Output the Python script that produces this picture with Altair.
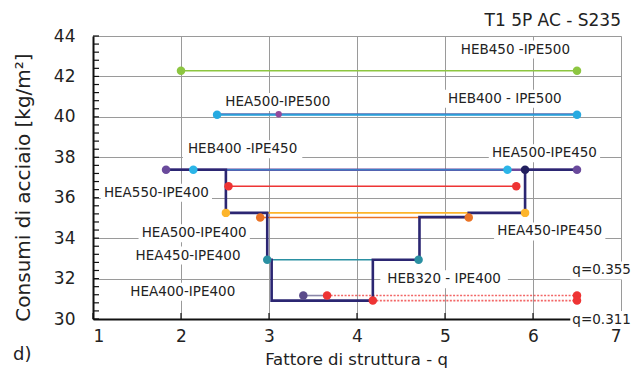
import altair as alt
import pandas as pd

# ---------------- data ----------------
seg_names = ["HEB450-IPE500", "HEA500-IPE500", "HEB400-IPE500", "HEA500-IPE450",
             "HEB400-IPE450", "HEA550-IPE400", "HEA450-IPE450", "HEA500-IPE400",
             "HEA450-IPE400", "HEA400-IPE400"]
seg_x1 = [2.00, 2.41, 2.41, 1.83, 2.14, 2.54, 2.51, 2.90, 2.98, 3.39]
seg_x2 = [6.50, 6.50, 6.50, 6.50, 5.71, 5.81, 5.91, 5.27, 4.70, 3.66]
seg_y = [42.28, 40.13, 40.09, 37.38, 37.38, 36.57, 35.25, 35.02, 32.93, 31.16]

pt_names = ["HEB450-IPE500", "HEB450-IPE500", "HEB400-IPE500", "HEB400-IPE500",
            "HEA500-IPE500", "HEA500-IPE450", "HEA500-IPE450", "HEB400-IPE450",
            "HEB400-IPE450", "envelope", "HEA550-IPE400", "HEA550-IPE400",
            "HEA450-IPE450", "HEA450-IPE450", "HEA500-IPE400", "HEA500-IPE400",
            "HEA450-IPE400", "HEA450-IPE400", "HEA400-IPE400", "q", "q", "q", "q"]
pt_x = [2.00, 6.50, 2.41, 6.50, 3.11, 1.83, 6.50, 2.14, 5.71, 5.91, 2.54, 5.81,
        2.51, 5.91, 2.90, 5.27, 2.98, 4.70, 3.39, 3.66, 4.18, 6.50, 6.50]
pt_y = [42.28, 42.28, 40.10, 40.10, 40.13, 37.38, 37.38, 37.38, 37.38, 37.38, 36.57, 36.57,
        35.25, 35.25, 35.02, 35.02, 32.93, 32.93, 31.16, 31.16, 30.91, 31.16, 30.91]

step_q = [1.83, 2.51, 2.51, 2.98, 2.98, 3.03, 3.03, 4.18, 4.18, 4.71, 4.71, 5.27,
          5.27, 5.91, 5.91, 6.50]
step_w = [37.38, 37.38, 35.25, 35.25, 32.93, 32.93, 30.91, 30.91, 32.93, 32.93,
          35.04, 35.04, 35.25, 35.25, 37.38, 37.38]

qline_x1 = [3.66, 4.18]
qline_x2 = [6.50, 6.50]
qline_y = [31.16, 30.91]

label_text = ["HEB450 -IPE500", "HEA500-IPE500", "HEB400 - IPE500", "HEB400 -IPE450",
              "HEA500-IPE450", "HEA550-IPE400", "HEA500-IPE400", "HEA450-IPE450",
              "HEA450-IPE400", "HEB320 - IPE400", "HEA400-IPE400", "q=0.355", "q=0.311"]
label_x = [5.80, 3.10, 5.68, 2.70, 6.13, 1.72, 2.15, 6.19, 2.08, 4.99, 2.02, 6.78, 6.78]
label_y = [43.33, 40.73, 40.89, 38.40, 38.20, 36.25, 34.24, 34.33, 33.14, 31.97, 31.35, 32.40, 29.95]

title_text = "T1 5P AC - S235"
panel_text = "d)"

y_major = [30, 32, 34, 36, 38, 40, 42, 44]
x_major = [1, 2, 3, 4, 5, 6, 7]
y_minor = [round(30 + 0.4 * i, 2) for i in range(36)]

# ---------------- styles ----------------
seg_colors = {
    "HEB450-IPE500": "#8DC641", "HEA500-IPE500": "#4A6CB3", "HEB400-IPE500": "#27AAE1",
    "HEA500-IPE450": "#6A4A9C", "HEB400-IPE450": "#3B7CC6", "HEA550-IPE400": "#EE3434",
    "HEA450-IPE450": "#FDB52B", "HEA500-IPE400": "#EA7325", "HEA450-IPE400": "#2A90A2",
    "HEA400-IPE400": "#8A86A8",
}
seg_widths = {"HEA500-IPE450": 2.5, "HEA500-IPE500": 2.2}
pt_colors = {
    "HEB450-IPE500": "#8DC641", "HEB400-IPE500": "#27AAE1", "HEA500-IPE500": "#93499C",
    "HEA500-IPE450": "#6A4A9C", "HEB400-IPE450": "#2BB5E8", "HEA550-IPE400": "#EE3434",
    "HEA450-IPE450": "#FDB52B", "HEA500-IPE400": "#EA7325", "HEA450-IPE400": "#2A90A2",
    "envelope": "#221F5E", "HEA400-IPE400": "#5B4B8B", "q": "#EE3434",
}

FONT = "DejaVu Sans"
W, H = 528, 283
LFS = 13.5

seg_df = pd.DataFrame({"name": seg_names, "x1": seg_x1, "x2": seg_x2, "y": seg_y})
seg_df["color"] = seg_df["name"].map(seg_colors)
seg_df["w"] = seg_df["name"].map(lambda n: seg_widths.get(n, 1.6))

pt_df = pd.DataFrame({"name": pt_names, "x": pt_x, "y": pt_y})
pt_df["color"] = pt_df["name"].map(pt_colors)
pt_df["size"] = pt_df["name"].map(lambda n: 40 if n == "HEA500-IPE500" else 72)

step_df = pd.DataFrame({"q": step_q, "w": step_w, "i": list(range(len(step_q)))})
ql_df = pd.DataFrame({"x1": qline_x1, "x2": qline_x2, "y": qline_y})

lab_df = pd.DataFrame({"t": label_text, "x": label_x, "y": label_y})
xpx = W / 6.0
ypx = H / 14.0
lab_df["hw"] = lab_df["t"].str.len() * 0.6 * LFS / 2 / xpx + 3 / xpx
lab_df["bx1"] = lab_df["x"] - lab_df["hw"]
lab_df["bx2"] = lab_df["x"] + lab_df["hw"]
lab_df["by1"] = lab_df["y"] - 9 / ypx
lab_df["by2"] = lab_df["y"] + 9 / ypx

xs = alt.Scale(domain=[1, 7], nice=False, zero=False)
ys = alt.Scale(domain=[30, 44], nice=False, zero=False)

x_axis = alt.Axis(values=x_major, grid=True, gridColor="#9a9a9a", gridWidth=1, ticks=False,
                  domainColor="#111", domainWidth=2, labelFontSize=17, labelPadding=9,
                  labelColor="#222", labelFont=FONT,
                  title="Fattore di struttura - q", titleFontSize=16.5, titleFontWeight="normal",
                  titleColor="#222", titleFont=FONT, titleX=263, titleY=45,
                  titleBaseline="alphabetic", titleAlign="center")
y_axis = alt.Axis(values=y_major, grid=True, gridColor="#9a9a9a", gridWidth=1, ticks=False,
                  domainColor="#111", domainWidth=2, labelFontSize=17, labelPadding=18,
                  labelColor="#222", labelFont=FONT,
                  title="Consumi di acciaio [kg/m²]", titleFontSize=20, titleFontWeight="normal",
                  titleColor="#222", titleFont=FONT, titleX=-70, titleY=151, titleAngle=270,
                  titleAlign="center", titleBaseline="middle")


def X(field):
    return alt.X(field, scale=xs, axis=x_axis, title="Fattore di struttura - q")


def Y(field):
    return alt.Y(field, scale=ys, axis=y_axis, title="Consumi di acciaio [kg/m²]")


yt_df = pd.DataFrame({"y": y_minor})
yticks = alt.Chart(yt_df).mark_rule(color="#111", strokeWidth=1.2).encode(
    y=Y("y:Q"), x=alt.value(0), x2=alt.value(6),
)
xt_df = pd.DataFrame({"x": x_major})
xticks = alt.Chart(xt_df).mark_rule(color="#111", strokeWidth=1.2).encode(
    x=X("x:Q"), y=alt.value(H - 6), y2=alt.value(H),
)

boxes = alt.Chart(lab_df).mark_rect(color="white").encode(
    x=X("bx1:Q"), x2="bx2:Q", y=Y("by1:Q"), y2="by2:Q",
)

segs = alt.Chart(seg_df).mark_rule().encode(
    x=X("x1:Q"), x2="x2:Q", y=Y("y:Q"),
    color=alt.Color("color:N", scale=None),
    strokeWidth=alt.StrokeWidth("w:Q", scale=None),
)

qlines = alt.Chart(ql_df).mark_rule(color="#EE3434", strokeDash=[2, 1.5], strokeWidth=1.6,
                                    opacity=0.75).encode(
    x=X("x1:Q"), x2="x2:Q", y=Y("y:Q"),
)

step = alt.Chart(step_df).mark_line(color="#2B2672", strokeWidth=2.6, interpolate="linear").encode(
    x=X("q:Q"), y=Y("w:Q"), order="i:Q",
)

pts = alt.Chart(pt_df).mark_circle(opacity=1).encode(
    x=X("x:Q"), y=Y("y:Q"),
    color=alt.Color("color:N", scale=None),
    size=alt.Size("size:Q", scale=None),
)

labels = alt.Chart(lab_df).mark_text(font=FONT, fontSize=LFS, color="#222",
                                     align="center", baseline="middle").encode(
    x=X("x:Q"), y=Y("y:Q"), text="t:N",
)

dlabel = alt.Chart(pd.DataFrame({"t": [panel_text]})).mark_text(
    font=FONT, fontSize=18, color="#222", align="left", baseline="alphabetic"
).encode(x=alt.value(-80), y=alt.value(324), text="t:N")

tlabel = alt.Chart(pd.DataFrame({"t": [title_text]})).mark_text(
    font=FONT, fontSize=17, color="#222", align="right", baseline="alphabetic"
).encode(x=alt.value(W), y=alt.value(-10), text="t:N")

chart = alt.layer(yticks, xticks, boxes, segs, qlines, step, pts, labels, dlabel, tlabel).properties(
    width=W, height=H,
    autosize=alt.AutoSizeParams(type="none"),
    padding={"left": 85, "top": 28, "right": 12, "bottom": 49},
).configure_view(stroke="#9a9a9a", strokeWidth=1).configure(font=FONT)

chart.save("out.html", embed_options={"renderer": "svg", "actions": False})
